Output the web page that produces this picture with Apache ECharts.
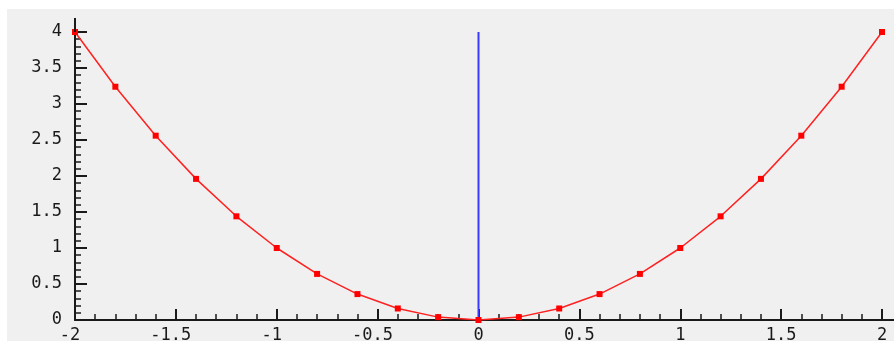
<!DOCTYPE html>
<html><head><meta charset="utf-8">
<script src="https://cdn.jsdelivr.net/npm/echarts@6/dist/echarts.min.js"></script>
<style>html,body{margin:0;padding:0;background:#fff;}#c{width:894px;height:341px;}</style>
</head><body><div id="c"></div>
<script>
var xValues = [-2, -1.8, -1.6, -1.4, -1.2, -1, -0.8, -0.6, -0.4, -0.2, 0, 0.2, 0.4, 0.6, 0.8, 1, 1.2, 1.4, 1.6, 1.8, 2];
var yValues = [4, 3.24, 2.56, 1.96, 1.44, 1, 0.64, 0.36, 0.16, 0.04, 0, 0.04, 0.16, 0.36, 0.64, 1, 1.44, 1.96, 2.56, 3.24, 4];
var blueX = [0, 0];
var blueY = [0, 4];

var chart = echarts.init(document.getElementById('c'), null, {renderer: 'canvas'});
var font = 'DejaVu Sans Mono';
var axisColor = '#1a1a1a';
var fs = 17;
var redData = xValues.map(function (x, i) { return [x, yValues[i]]; });
var blueData = blueX.map(function (x, i) { return [x, blueY[i]]; });
function fmt(v) { return String(Math.round(v * 10) / 10); }

chart.setOption({
  animation: false,
  backgroundColor: '#ffffff',
  grid: {left: 75, right: 12, top: 32, bottom: 21, containLabel: false, outerBoundsMode: 'none'},
  graphic: [{type: 'rect', z: -10, shape: {x: 7, y: 9, width: 900, height: 340}, style: {fill: '#f0f0f0'}, silent: true}],
  xAxis: {
    type: 'value', min: -2, max: 2, interval: 0.5,
    axisLine: {show: true, onZero: false, lineStyle: {color: axisColor, width: 2}},
    axisTick: {show: true, inside: true, length: 11, lineStyle: {color: axisColor, width: 2}},
    minorTick: {show: true, splitNumber: 5, length: 6, lineStyle: {color: axisColor, width: 1.5}},
    splitLine: {show: false},
    axisLabel: {fontFamily: font, fontSize: fs, color: axisColor, margin: 7,
      formatter: function (v) { return v < 0 ? '{neg|' + fmt(v) + '}' : '{pos|' + fmt(v) + '}'; },
      rich: {
        neg: {fontFamily: font, fontSize: fs, color: axisColor, padding: [0, fs * 0.6, 0, 0]},
        pos: {fontFamily: font, fontSize: fs, color: axisColor}
      }}
  },
  yAxis: {
    type: 'value', min: 0, max: 4, interval: 0.5,
    axisLine: {show: true, onZero: false, lineStyle: {color: axisColor, width: 2}},
    axisTick: {show: true, inside: true, length: 12, lineStyle: {color: axisColor, width: 2}},
    minorTick: {show: true, splitNumber: 5, length: 6, lineStyle: {color: axisColor, width: 1.5}},
    splitLine: {show: false},
    axisLabel: {fontFamily: font, fontSize: fs, color: axisColor, margin: 13, padding: [4, 0, 0, 0],
      formatter: fmt}
  },
  series: [
    {type: 'line', data: blueData, showSymbol: false, symbol: 'none', z: 2,
      lineStyle: {color: '#3a3aff', width: 2}},
    {type: 'line', data: redData, symbol: 'rect', symbolSize: 6, z: 3,
      itemStyle: {color: '#ff0000'}, lineStyle: {color: '#ff2020', width: 1.5}}
  ]
});

var top4 = chart.convertToPixel({gridIndex: 0}, [-2, 4]);
var right2 = chart.convertToPixel({gridIndex: 0}, [2, 0]);
chart.setOption({
  graphic: [
    {type: 'rect', z: -10, shape: {x: 7, y: 9, width: 900, height: 340}, style: {fill: '#f0f0f0'}, silent: true},
    {type: 'line', z: 5, shape: {x1: top4[0], y1: top4[1], x2: top4[0], y2: top4[1] - 14}, style: {stroke: axisColor, lineWidth: 2}, silent: true},
    {type: 'line', z: 5, shape: {x1: right2[0], y1: right2[1], x2: 894, y2: right2[1]}, style: {stroke: axisColor, lineWidth: 2}, silent: true}
  ]
});
</script></body></html>
